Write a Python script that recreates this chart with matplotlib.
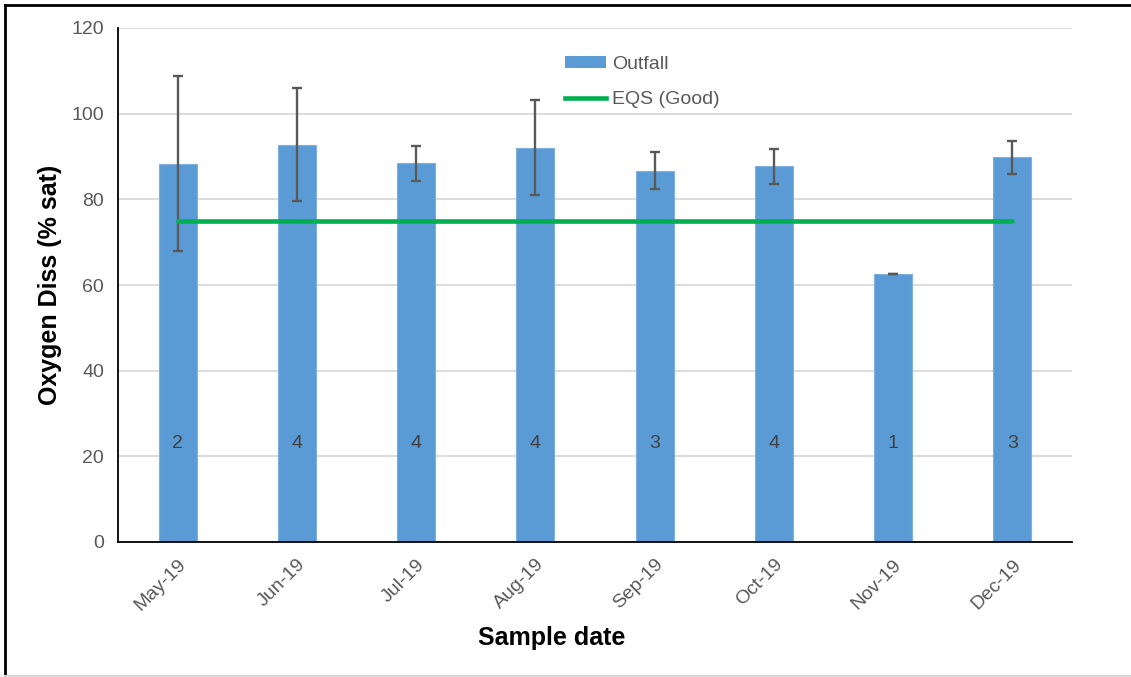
import matplotlib
matplotlib.use("Agg")
import matplotlib.pyplot as plt
from matplotlib.lines import Line2D
from matplotlib.patches import Patch

months = ["May-19", "Jun-19", "Jul-19", "Aug-19", "Sep-19", "Oct-19", "Nov-19", "Dec-19"]
outfall = [88.3, 92.7, 88.4, 92.1, 86.7, 87.7, 62.6, 89.8]
errors = [20.4, 13.2, 4.1, 11.2, 4.4, 4.1, 0.0, 3.8]
counts = ["2", "4", "4", "4", "3", "4", "1", "3"]
eqs_good = [75] * len(months)

plt.rcParams['font.family'] = ['Liberation Sans', 'DejaVu Sans']

W, H = 1131, 677
fig = plt.figure(figsize=(W / 100, H / 100), dpi=100)
ax = fig.add_axes([118 / W, 1 - 542 / H, (1072 - 118) / W, (542 - 28) / H])

x = list(range(len(months)))
ax.bar(x, outfall, width=0.32, color="#5B9BD5", edgecolor="#7FB0DF", linewidth=0.8,
       zorder=2, label="Outfall")
ax.errorbar(x, outfall, yerr=errors, fmt="none", ecolor="#595959", elinewidth=1.7,
            capsize=3.8, capthick=1.7, zorder=3)
ax.plot(x, eqs_good, color="#00B050", lw=3.3, zorder=4, solid_capstyle="round",
        label="EQS (Good)")

for xi, c in zip(x, counts):
    ax.text(xi, 23, c, ha="center", va="center", fontsize=14, color="#404040", zorder=5)

ax.set_xlim(-0.5, len(months) - 0.5)
ax.set_ylim(0, 120)
ax.set_yticks(range(0, 121, 20))
ax.set_xticks(x)
ax.set_xticklabels(months, rotation=45, ha="right", rotation_mode="anchor")
ax.tick_params(axis="both", length=0, colors="#595959", labelsize=14)
ax.tick_params(axis="x", pad=10)
ax.tick_params(axis="y", pad=10)
ax.grid(axis="y", color="#D9D9D9", lw=1.3, zorder=0)
ax.set_axisbelow(True)
for s in ["top", "right"]:
    ax.spines[s].set_visible(False)
for s in ["left", "bottom"]:
    ax.spines[s].set_color("black")
    ax.spines[s].set_linewidth(1.3)

ax.set_ylabel("Oxygen Diss (% sat)", fontsize=18, fontweight="bold", color="black")
ax.yaxis.set_label_coords((62 - 118) / 954, 0.5)
ax.set_xlabel("Sample date", fontsize=18, fontweight="bold", color="black")
ax.xaxis.set_label_coords((552 - 118) / 954, (542 - 626) / 514)

handles = [Patch(facecolor="#5B9BD5", label="Outfall"),
           Line2D([0], [0], color="#00B050", lw=3.3, label="EQS (Good)")]
leg = fig.legend(handles=handles, loc="upper left", bbox_to_anchor=(565 / W, 1 - 56 / H),
                 frameon=False, fontsize=14, labelcolor="#595959", handlelength=2.1,
                 handleheight=0.55, labelspacing=0.95, handletextpad=0.3,
                 borderpad=0, borderaxespad=0)

# outer border
tf = fig.transFigure
fig.add_artist(Line2D([5 / W, 5 / W], [1 - 5 / H, 0], color="black", lw=2, transform=tf))
fig.add_artist(Line2D([5 / W, 1], [1 - 5 / H, 1 - 5 / H], color="black", lw=2, transform=tf))
fig.add_artist(Line2D([5 / W, 1], [1 - 676 / H, 1 - 676 / H], color="#D9D9D9", lw=1.5, transform=tf))

fig.savefig("out.png", dpi=100)
